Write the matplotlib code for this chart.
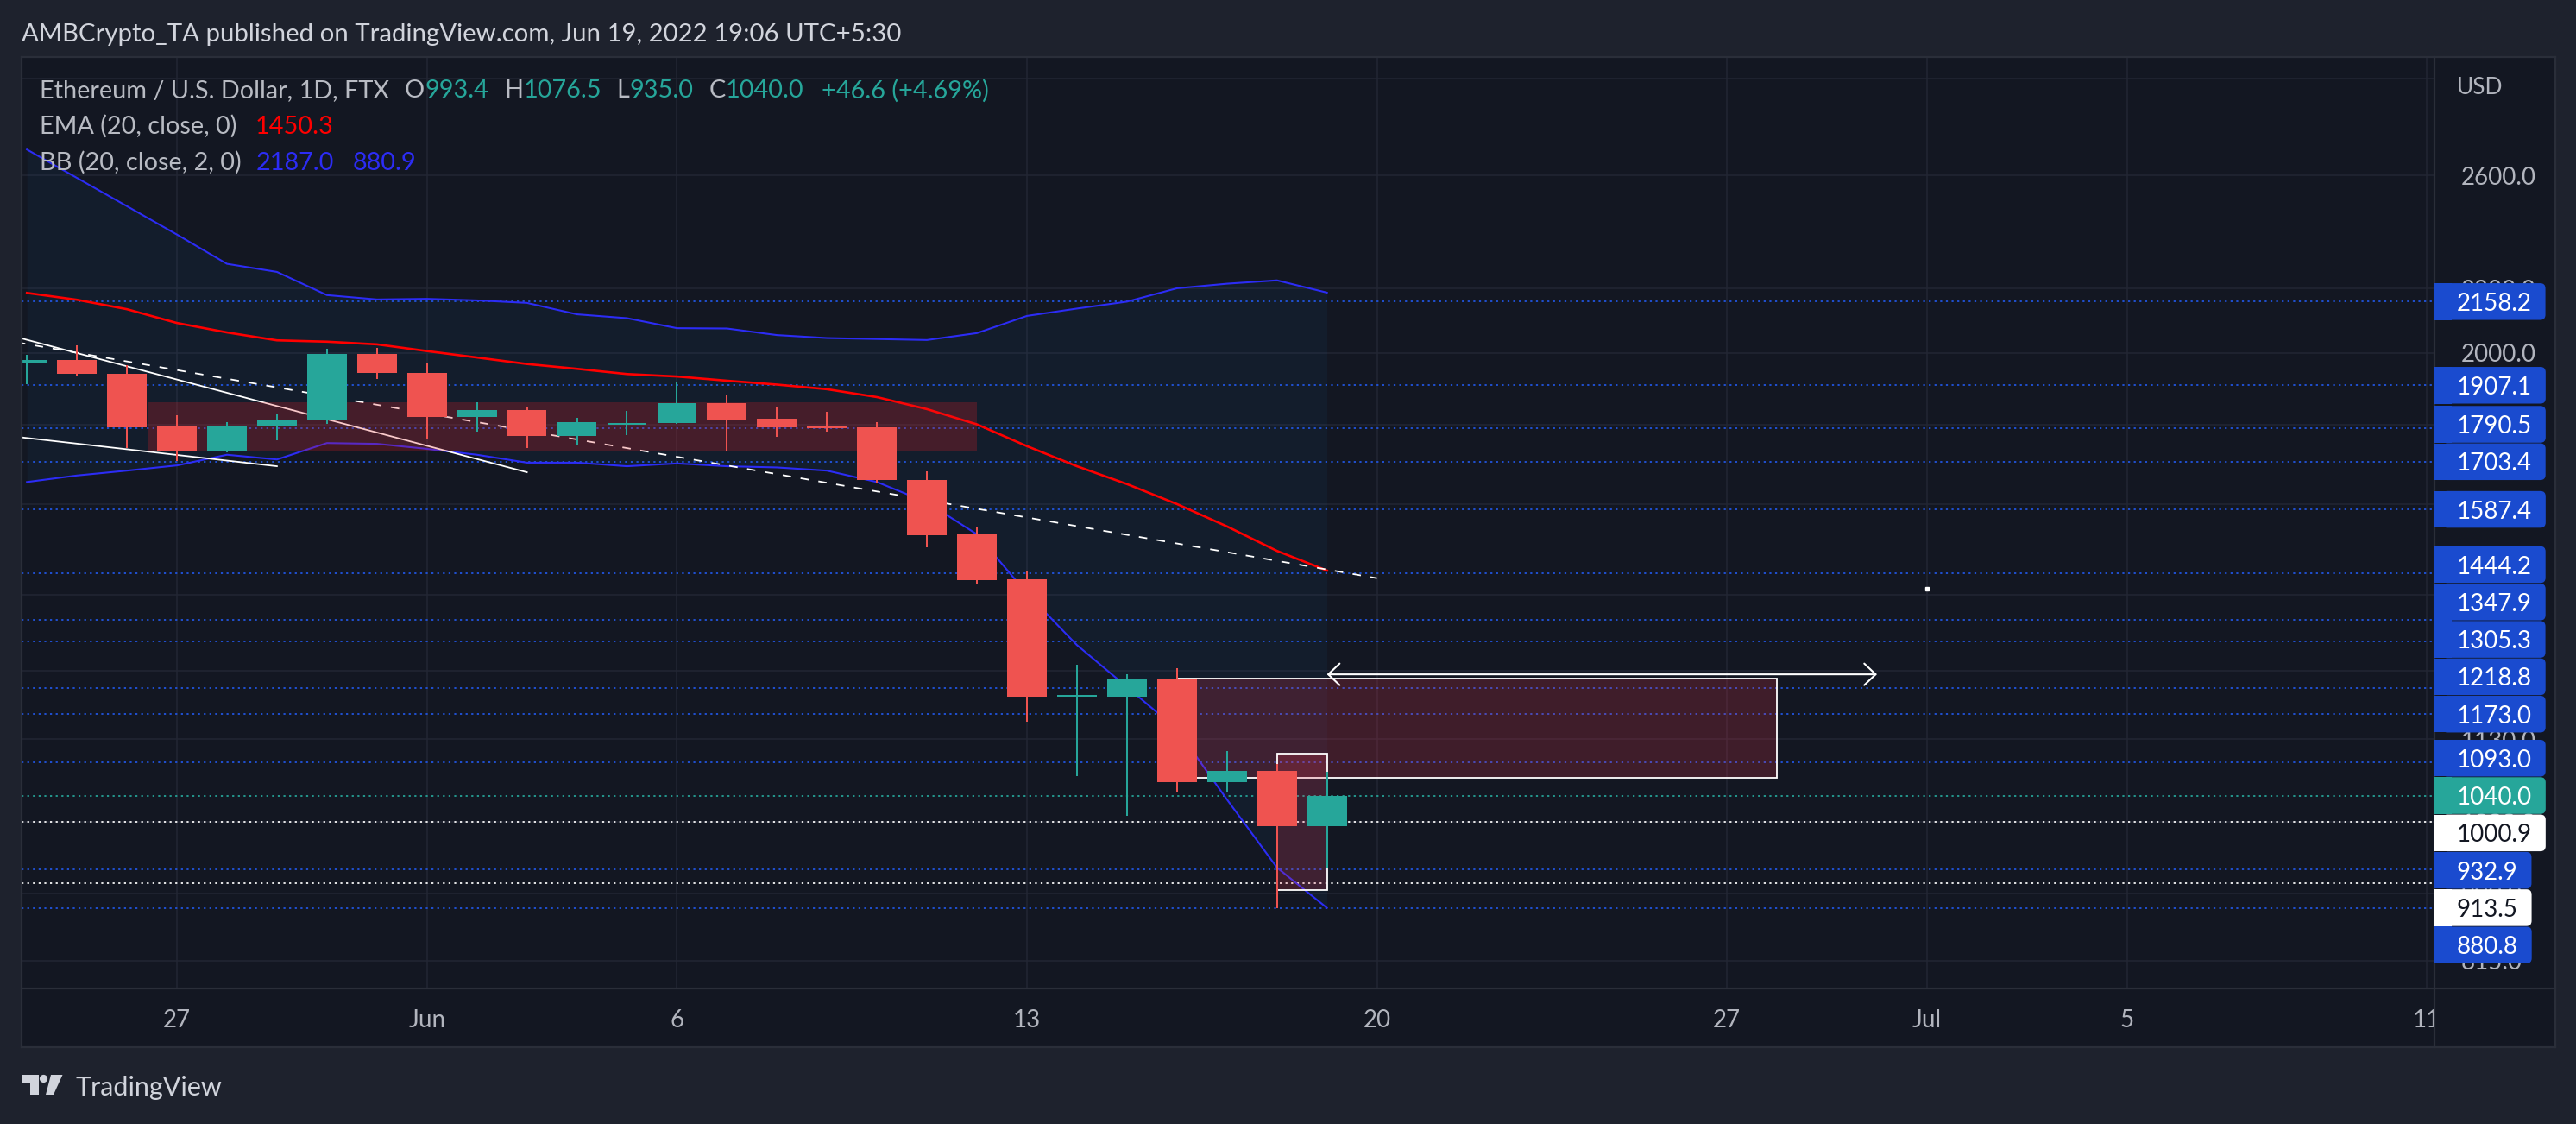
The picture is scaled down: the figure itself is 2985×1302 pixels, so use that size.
import numpy as np
import pandas as pd
import matplotlib
matplotlib.use('Agg')
import matplotlib.pyplot as plt
import matplotlib.dates as mdates
from matplotlib.patches import Rectangle, FancyBboxPatch, Polygon, Circle
from matplotlib.lines import Line2D
from matplotlib.transforms import IdentityTransform
from matplotlib.ticker import FixedLocator, NullLocator, NullFormatter

FONT = 'Lato'
W, H = 2985, 1302

#------------------ DATA (ETH/USD daily, FTX) ------------------#
dates = pd.date_range('2022-05-24', '2022-06-19', freq='D')
opens = [1972, 1979, 1940, 1794, 1729, 1795, 1810, 1997, 1941, 1820, 1838, 1770, 1800,
         1803, 1857, 1815, 1795, 1792, 1659, 1530, 1431, 1204, 1204, 1236, 1061, 1078, 993.4]
highs = [1995, 2023, 1964, 1824, 1807, 1829, 2013, 2015, 1972, 1859, 1849, 1818, 1836,
         1916, 1878, 1847, 1833, 1805, 1680, 1546, 1450, 1262, 1245, 1255, 1111, 1090, 1076.5]
lows = [1910, 1934, 1737, 1705, 1727, 1758, 1801, 1924, 1763, 1781, 1739, 1748, 1772,
        1801, 1729, 1767, 1781, 1650, 1500, 1421, 1160, 1071, 1009, 1045, 1045, 880.8, 935.0]
closes = [1979, 1940, 1793, 1729, 1795, 1811, 1997, 1941, 1820, 1838, 1770, 1806, 1803,
          1857, 1812, 1793, 1790, 1658, 1528, 1430, 1204, 1207, 1236, 1061, 1078, 993.4, 1040.0]

ema20 = [2186, 2164, 2134, 2091, 2062, 2038, 2034, 2026, 2006, 1987, 1968, 1954, 1939,
         1932, 1920, 1909, 1896, 1874, 1841, 1800, 1743, 1692, 1648, 1600, 1548, 1493, 1450.3]
bb_upper = [2702, 2591, 2485, 2383, 2282, 2255, 2179, 2165, 2167, 2162, 2154, 2118, 2106,
            2075, 2074, 2054, 2045, 2042, 2039, 2060, 2113, 2136, 2158, 2201, 2216, 2227, 2187.0]
bb_lower = [1653, 1669, 1681, 1694, 1721, 1709, 1751, 1749, 1736, 1721, 1701, 1701, 1692,
            1699, 1692, 1689, 1681, 1653, 1604, 1530, 1402, 1299, 1221, 1147, 1034, 935, 880.9]

# horizontal levels drawn on the chart (price, kind)
level_prices = [2158.2, 1907.1, 1790.5, 1703.4, 1587.4, 1444.2, 1347.9, 1305.3, 1218.8,
                1173.0, 1093.0, 1040.0, 1000.9, 932.9, 913.5, 880.8]
level_kinds = ['blue'] * 11 + ['last', 'white', 'blue', 'white', 'blue']

price_ticks = [3000, 2600, 2200, 2000, 1800, 1600, 1400, 1250, 1130, 1000, 900, 815]
date_ticks = ['2022-05-27', '2022-06-01', '2022-06-06', '2022-06-13', '2022-06-20',
              '2022-06-27', '2022-07-01', '2022-07-05', '2022-07-11']
date_labels = ['27', 'Jun', '6', '13', '20', '27', 'Jul', '5', '11']

# drawings
wedge_top = (['2022-05-23 00:00', '2022-06-03 00:00'], [2080, 1677])
wedge_bottom = (['2022-05-23 00:00', '2022-05-29 00:00'], [1779, 1692])
dashed_trend = (['2022-05-23 00:00', '2022-06-20 00:00'], [2053, 1434])
range_box = (['2022-05-26 10:00', '2022-06-12 00:00'], [1729, 1860])
supply_box = (['2022-06-16 00:00', '2022-06-28 00:00'], [1068, 1236])
wick_box = (['2022-06-18 00:00', '2022-06-19 00:00'], [904.5, 1107])
arrow_span = (['2022-06-19 00:00', '2022-06-30 00:00'], 1244)
dot_mark = ('2022-07-01', 1411)

#------------------ COLOURS ------------------#
BG_OUT = '#1e222d'
BG = '#131722'
BORDER = '#2a2e39'
GRIDC = '#222633'
GREEN = '#26a69a'
RED = '#ef5350'
EMA_C = '#ff0000'
BB_C = '#2c2cf5'
LVL_C = '#2157e6'
BOX_C = '#1a4bcf'
TXT = '#b2b5be'
HDR = '#d1d4dc'


def px2fig(x, y):
    return x / W, 1 - y / H


def to_num(lst):
    return mdates.date2num(pd.to_datetime(lst, format='%Y-%m-%d %H:%M'))


fig = plt.figure(figsize=(W / 100, H / 100), dpi=100, facecolor=BG_OUT)

# panel background + plot axes
fig.add_artist(Rectangle((25, H - 1213), 2936, 1147, transform=IdentityTransform(),
                         facecolor=BG, edgecolor='none', zorder=-5))
ax = fig.add_axes([25 / W, 1 - 1145 / H, (2821 - 25) / W, (1145 - 66) / H])
ax.set_facecolor(BG)
for s in ax.spines.values():
    s.set_visible(False)

x = mdates.date2num(dates)
o = np.array(opens); c = np.array(closes); hi = np.array(highs); lo = np.array(lows)

ax.set_yscale('log')
ax.set_ylim(782, 3098)
ax.set_xlim(x[0] - 0.107, x[0] + 48.15)

# grid
ax.yaxis.set_major_locator(FixedLocator(price_ticks))
ax.yaxis.set_minor_locator(NullLocator())
ax.yaxis.set_minor_formatter(NullFormatter())
ax.set_yticklabels(['' if v == 3000 else f'{v:.1f}' for v in price_ticks])
ax.set_xticks(mdates.date2num(pd.to_datetime(date_ticks)))
ax.set_xticklabels(date_labels)
ax.grid(True, color=GRIDC, lw=1.1, zorder=0)
ax.set_axisbelow(True)
ax.tick_params(axis='y', which='both', left=False, right=False, labelleft=False,
               labelright=True, pad=18.5, labelsize=20, labelcolor=TXT)
ax.tick_params(axis='x', which='both', bottom=False, length=0, pad=17.5,
               labelsize=20, labelcolor=TXT)
for t in ax.get_xticklabels() + ax.get_yticklabels():
    t.set_family(FONT)

# bollinger fill + lines, ema
ax.fill_between(x, bb_lower, bb_upper, color='#2196f3', alpha=0.05, lw=0, zorder=1)
ax.plot(x, bb_upper, color=BB_C, lw=1.5, zorder=4)
ax.plot(x, bb_lower, color=BB_C, lw=1.5, zorder=4)
ax.plot(x, ema20, color=EMA_C, lw=1.9, zorder=4)

# horizontal levels
lvl_color = {'blue': LVL_C, 'white': '#ffffff', 'last': GREEN}
for p, k in zip(level_prices, level_kinds):
    ax.axhline(p, color=lvl_color[k], lw=1.25, ls=(0, (1.3, 2.5)), zorder=2)

# trend lines
for seg in (wedge_top, wedge_bottom):
    ax.plot(to_num(seg[0]), seg[1], color='white', lw=1.3, zorder=4)
ax.plot(to_num(dashed_trend[0]), dashed_trend[1], color='white',
        lw=1.3, ls=(0, (5.4, 6.2)), zorder=4)


# boxes
def add_box(b, fc, ec):
    xx = to_num(b[0])
    ax.add_patch(Rectangle((xx[0], b[1][0]), xx[1] - xx[0], b[1][1] - b[1][0],
                           facecolor=fc, edgecolor=ec, lw=1.3, zorder=5))


add_box(range_box, (0.9, 0.12, 0.14, 0.24), 'none')
add_box(supply_box, (0.95, 0.21, 0.31, 0.2), 'white')
add_box(wick_box, (0.95, 0.21, 0.31, 0.2), 'white')

# candles
cols = np.where(c >= o, GREEN, RED)
ax.vlines(x, lo, hi, colors=cols, lw=1.45, zorder=6)
bot = np.minimum(o, c); top = np.maximum(o, c)
ax.bar(x, top - bot, bottom=bot, width=0.79, color=cols, lw=0, zorder=7)

# arrow + dot
arr_x = to_num(arrow_span[0])
ax.annotate('', xy=(arr_x[1], arrow_span[1]), xytext=(arr_x[0], arrow_span[1]),
            arrowprops=dict(arrowstyle='<->,head_length=0.95,head_width=0.9', color='white',
                            lw=1.5, shrinkA=0, shrinkB=0), zorder=8)
ax.plot(mdates.date2num(pd.Timestamp(dot_mark[0])), dot_mark[1], marker='s', ms=2.4,
        color='white', zorder=8)

# corner under the price scale (clips the last date label) and borders
fig.add_artist(Rectangle((2822, H - 1212), 139, 66, transform=IdentityTransform(),
                         facecolor=BG, edgecolor='none', zorder=5))
for (x0, y0, x1, y1) in [(25, 66, 2961, 66), (25, 1213, 2961, 1213), (25, 66, 25, 1213),
                         (2961, 66, 2961, 1213), (2821, 66, 2821, 1213), (25, 1145, 2961, 1145)]:
    fig.add_artist(Line2D([x0, x1], [H - y0, H - y1], transform=IdentityTransform(),
                          color=BORDER, lw=1.6, zorder=6))

# price labels on the scale
renderer = fig.canvas.get_renderer()
true_y = [H - ax.transData.transform((x[0], p))[1] for p in level_prices]
anchor = level_kinds.index('last')
step = 43.3
pos = list(true_y)
for i in range(anchor - 1, -1, -1):
    pos[i] = min(true_y[i], pos[i + 1] - step)
for i in range(anchor + 1, len(pos)):
    pos[i] = max(true_y[i], pos[i - 1] + step)

box_fc = {'blue': BOX_C, 'white': '#ffffff', 'last': GREEN}
box_tc = {'blue': '#ffffff', 'white': '#131722', 'last': '#ffffff'}
bh = 42.5
for p, k, yy in zip(level_prices, level_kinds, pos):
    t = fig.text(*px2fig(2846.7, yy), f'{p:.1f}', color=box_tc[k], fontsize=20, family=FONT,
                 va='center_baseline', ha='left', zorder=11)
    right = t.get_window_extent(renderer).x1 + 16
    fig.add_artist(Rectangle((2821, H - yy - bh / 2), 20, bh, transform=IdentityTransform(),
                             facecolor=box_fc[k], edgecolor='none', zorder=10))
    fig.add_artist(FancyBboxPatch((2830, H - yy - bh / 2), right - 2830, bh,
                                  boxstyle='round,pad=0,rounding_size=6',
                                  transform=IdentityTransform(), facecolor=box_fc[k],
                                  edgecolor='none', zorder=10))

fig.text(*px2fig(2846.7, 109), 'USD', color=TXT, fontsize=19, family=FONT, va='baseline', zorder=11)

# header and legend
fig.text(*px2fig(25, 47.7), 'AMBCrypto_TA published on TradingView.com, Jun 19, 2022 19:06 UTC+5:30',
         color=HDR, fontsize=21.2, family=FONT, va='baseline')


def put_runs(x0, base, parts, size):
    xx = x0
    for txt, col, gap in parts:
        t = fig.text(*px2fig(xx, base), txt, color=col, fontsize=size, family=FONT,
                     va='baseline', ha='left', zorder=12)
        xx = t.get_window_extent(renderer).x1 + gap


chg = closes[-1] - closes[-2]
pct = chg / closes[-2] * 100
LG = '#b8bbc3'
LS = 20.8
put_runs(46, 113.3, [('Ethereum / U.S. Dollar, 1D, FTX', LG, 18),
                     ('O', LG, 0), (f'{opens[-1]:.1f}', GREEN, 18),
                     ('H', LG, 0), (f'{highs[-1]:.1f}', GREEN, 18),
                     ('L', LG, 0), (f'{lows[-1]:.1f}', GREEN, 18),
                     ('C', LG, 0), (f'{closes[-1]:.1f}', GREEN, 20),
                     (f'{chg:+.1f} ({pct:+.2f}%)', GREEN, 0)], LS)
put_runs(46, 155, [('EMA (20, close, 0)', LG, 21), (f'{ema20[-1]:.1f}', EMA_C, 0)], LS)
put_runs(46, 196.7, [('BB (20, close, 2, 0)', LG, 17), (f'{bb_upper[-1]:.1f}', BB_C, 22),
                     (f'{bb_lower[-1]:.1f}', BB_C, 0)], LS)

# footer logo
LOGO = '#d1d4dc'
fig.add_artist(Polygon([(25, H - 1245), (45, H - 1245), (45, H - 1268), (35, H - 1268),
                        (35, H - 1253.5), (25, H - 1253.5)], closed=True,
                       transform=IdentityTransform(), facecolor=LOGO, edgecolor='none'))
fig.add_artist(Circle((50.5, H - 1249.5), 4.6, transform=IdentityTransform(),
                      facecolor=LOGO, edgecolor='none'))
fig.add_artist(Polygon([(59, H - 1245), (72.5, H - 1245), (62, H - 1268), (53, H - 1268)],
                       closed=True, transform=IdentityTransform(), facecolor=LOGO,
                       edgecolor='none'))
fig.text(*px2fig(87, 1269), 'TradingView', color=LOGO, fontsize=22, family=FONT, va='baseline')

fig.savefig('out.png', dpi=100, facecolor=BG_OUT)
